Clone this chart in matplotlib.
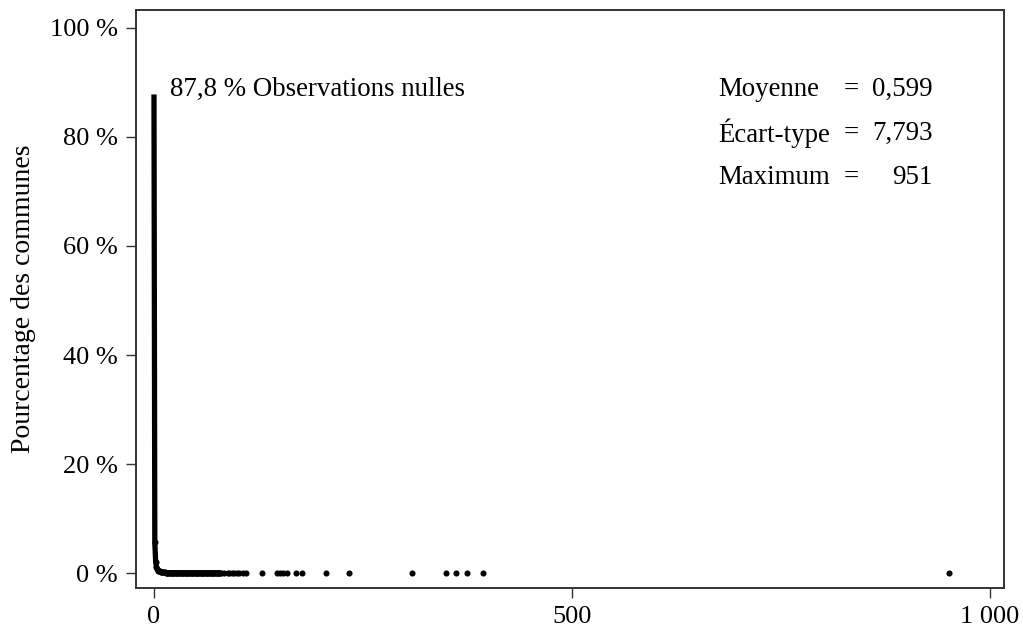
import matplotlib
matplotlib.use("Agg")
import matplotlib.pyplot as plt
from matplotlib.ticker import FuncFormatter

plt.rcParams['font.family'] = ['Liberation Serif', 'DejaVu Serif']

# Distribution: value (number) -> percentage of communes
values_dense = list(range(0, 81))
pct_dense = [87.8, 5.6, 2.1, 1.1, 0.7, 0.45, 0.35, 0.28, 0.22, 0.18,
             0.15, 0.13, 0.11, 0.10, 0.09, 0.08, 0.07, 0.065, 0.06, 0.055,
             0.05, 0.048, 0.045, 0.042, 0.04, 0.038, 0.035, 0.033, 0.03, 0.03,
             0.028, 0.026, 0.025, 0.024, 0.022, 0.021, 0.02, 0.02, 0.019, 0.018,
             0.017, 0.016, 0.016, 0.015, 0.015, 0.014, 0.014, 0.013, 0.013, 0.012,
             0.012, 0.011, 0.011, 0.01, 0.01, 0.01, 0.01, 0.01, 0.01, 0.01,
             0.01, 0.01, 0.01, 0.01, 0.01, 0.01, 0.01, 0.01, 0.01, 0.01,
             0.01, 0.01, 0.01, 0.01, 0.01, 0.01, 0.01, 0.01, 0.01, 0.01,
             0.01]
values_sparse = [84, 88, 90, 93, 96, 99, 102, 106, 110, 129, 147, 151, 154,
                 159, 170, 177, 206, 233, 309, 349, 361, 375, 393, 951]
pct_sparse = [0.01] * len(values_sparse)

x_ticks = [0, 500, 1000]
x_ticklabels = ['0', '500', '1 000']
y_ticks = [0, 20, 40, 60, 80, 100]

stats_labels = ['Moyenne', 'Écart-type', 'Maximum']
stats_values = ['0,599', '7,793', '951']
zero_share = '87,8 % Observations nulles'

FS = 19.4

fig = plt.figure(figsize=(10.23, 6.34), dpi=100)
ax = fig.add_axes([136 / 1023, 1 - 588 / 634, (1004 - 136) / 1023, (588 - 10) / 634])

ax.plot(values_dense, pct_dense, color='black', lw=3.8, solid_capstyle='butt',
        solid_joinstyle='miter', zorder=3)
ax.plot(values_dense[1:] + values_sparse, pct_dense[1:] + pct_sparse, 'o',
        color='black', ms=4.4, mec='none', zorder=4)

ax.set_xlim(-21.5, 1016.7)
ax.set_ylim(-2.75, 103.3)
ax.set_xticks(x_ticks)
ax.set_xticklabels(x_ticklabels)
ax.set_yticks(y_ticks)
ax.yaxis.set_major_formatter(FuncFormatter(lambda v, p: f'{int(v)} %'))
ax.tick_params(axis='both', direction='out', length=7, width=1, color='#333333',
               labelsize=19, pad=6)
for s in ax.spines.values():
    s.set_linewidth(1.4)
    s.set_color('#333333')
ax.set_ylabel('Pourcentage des communes', fontsize=20, labelpad=10)

ax.text(19, 88.8, zero_share, fontsize=FS, va='center', ha='left')

rows_y = [88.8, 80.7, 72.5]
for lab, val, yy in zip(stats_labels, stats_values, rows_y):
    ax.text(675, yy, lab, fontsize=FS, va='center', ha='left')
    ax.text(834, yy, '=', fontsize=FS, va='center', ha='center')
    ax.text(931, yy, val, fontsize=FS, va='center', ha='right')

fig.savefig('out.png', dpi=100)
